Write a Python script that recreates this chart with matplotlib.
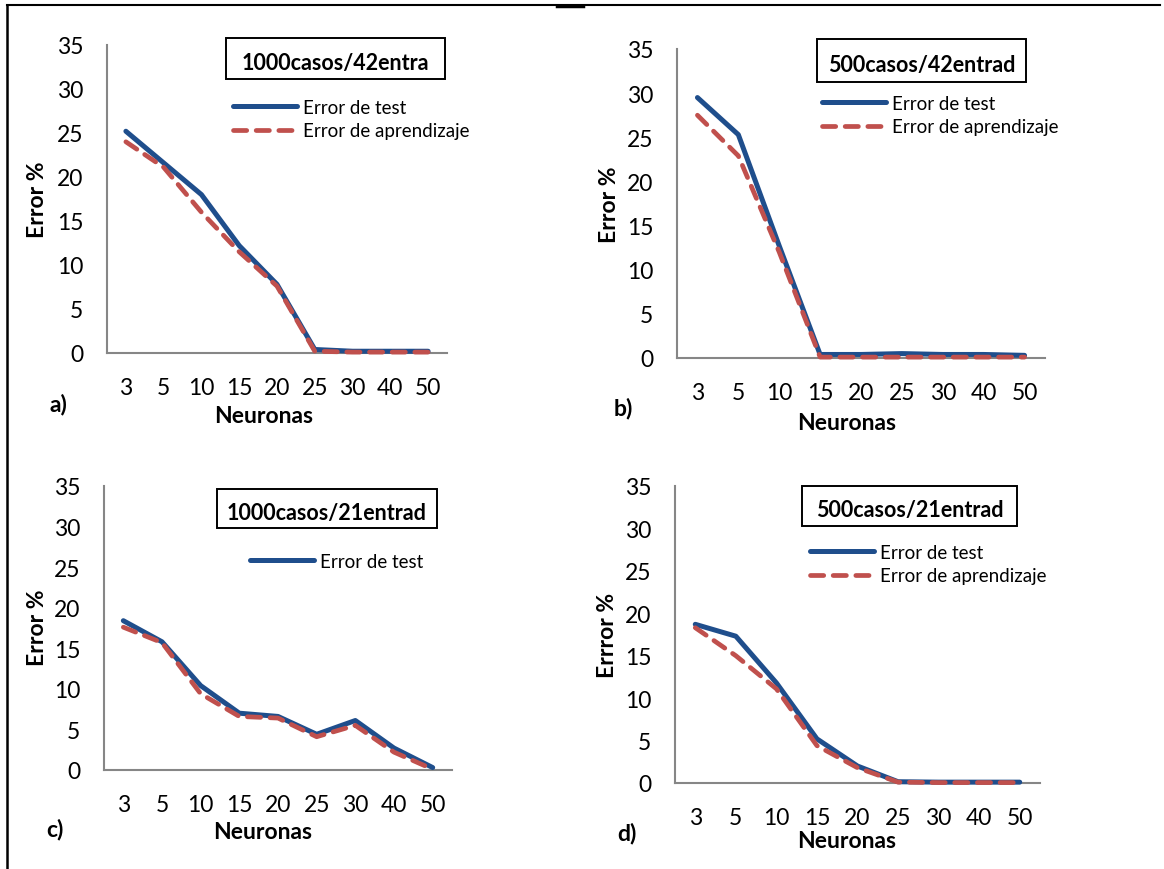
import matplotlib
matplotlib.use('Agg')
import matplotlib.pyplot as plt
from matplotlib.lines import Line2D
from matplotlib.patches import Rectangle

plt.rcParams['font.family'] = ['Lato', 'DejaVu Sans']

# datos
neuronas = ['3', '5', '10', '15', '20', '25', '30', '40', '50']

test_a = [25.2, 21.6, 18.0, 12.2, 7.8, 0.4, 0.2, 0.2, 0.2]
apr_a = [24.0, 21.1, 16.0, 11.5, 7.6, 0.2, 0.1, 0.1, 0.1]

test_b = [29.5, 25.3, 12.7, 0.4, 0.4, 0.5, 0.4, 0.4, 0.3]
apr_b = [27.5, 22.9, 12.0, 0.1, 0.1, 0.1, 0.1, 0.1, 0.1]

test_c = [18.4, 15.8, 10.4, 7.0, 6.6, 4.4, 6.1, 2.7, 0.3]
apr_c = [17.6, 15.7, 9.4, 6.6, 6.4, 4.1, 5.5, 2.2, 0.1]

test_d = [18.7, 17.3, 11.8, 5.2, 2.0, 0.15, 0.1, 0.1, 0.1]
apr_d = [18.3, 15.0, 11.1, 4.4, 1.8, 0.1, 0.05, 0.05, 0.05]

titulos = ['1000casos/42entra', '500casos/42entrad', '1000casos/21entrad', '500casos/21entrad']
ylabels = ['Error %', 'Error %', 'Error %', 'Errror %']
letras = ['a)', 'b)', 'c)', 'd)']

W, H = 1164, 870
AZUL = '#1F4E8C'
ROJO = '#C0504D'
GRIS = '#868686'

fig = plt.figure(figsize=(W / 100, H / 100), dpi=100)


def fx(x):
    return x / W


def fy(y):
    return 1 - y / H


# posiciones en pixeles: eje (x0, x1, ytop, ybot), ylabel, letra, neuronas, caja titulo, leyenda
paneles = [
    dict(ax=(107, 447, 46, 354), yl=(38, 200), let=(58, 405), neu=(264, 417),
         caja=(226, 445, 39, 80), ley=(233, 120)),
    dict(ax=(677, 1045, 50, 359), yl=(609, 205), let=(623, 409), neu=(847, 424),
         caja=(817, 1026, 40, 83), ley=(822, 116)),
    dict(ax=(104, 452, 487, 771), yl=(38, 628), let=(55, 830), neu=(263, 833),
         caja=(217, 437, 490, 529), ley=(250, 562)),
    dict(ax=(675, 1040, 487, 784), yl=(607, 635), let=(627, 834), neu=(847, 842),
         caja=(802, 1017, 487, 527), ley=(810, 565)),
]

series = [(test_a, apr_a), (test_b, apr_b), (test_c, apr_c), (test_d, apr_d)]

for i, p in enumerate(paneles):
    x0, x1, yt, yb = p['ax']
    ax = fig.add_axes([fx(x0), fy(yb), (x1 - x0) / W, (yb - yt) / H])
    for s in ['top', 'right']:
        ax.spines[s].set_visible(False)
    for s in ['left', 'bottom']:
        ax.spines[s].set_color(GRIS)
        ax.spines[s].set_linewidth(1.5)
        ax.spines[s].set_zorder(1)
    test, apr = series[i]
    lt, = ax.plot(range(len(neuronas)), test, color=AZUL, lw=3.6, clip_on=False, zorder=3,
                  solid_capstyle='round', solid_joinstyle='round', label='Error de test')
    la, = ax.plot(range(len(neuronas)), apr, color=ROJO, lw=3.4, dashes=(2.8, 2.0), clip_on=False,
                  zorder=4, dash_capstyle='round', label='Error de aprendizaje')
    ax.set_xlim(-0.5, len(neuronas) - 0.5)
    ax.set_ylim(0, 35)
    ax.set_yticks(range(0, 36, 5))
    ax.set_xticks(range(len(neuronas)))
    ax.set_xticklabels(neuronas)
    ax.tick_params(length=0, labelsize=16.5, colors='black')
    ax.tick_params(axis='y', pad=17)
    ax.tick_params(axis='x', pad=17)
    ax.patch.set_visible(False)

    fig.text(fx(p['yl'][0]), fy(p['yl'][1]), ylabels[i], rotation=90, ha='center', va='center',
             fontsize=16.5, fontweight='bold')
    fig.text(fx(p['let'][0]), fy(p['let'][1]), letras[i], ha='center', va='center',
             fontsize=16.5, fontweight='bold')
    fig.text(fx(p['neu'][0]), fy(p['neu'][1]), 'Neuronas', ha='center', va='center',
             fontsize=16.5, fontweight='bold')

    bx0, bx1, by0, by1 = p['caja']
    fig.add_artist(Rectangle((fx(bx0), fy(by1)), (bx1 - bx0) / W, (by1 - by0) / H,
                             transform=fig.transFigure, fill=False, edgecolor='black', lw=1.4))
    fig.text(fx((bx0 + bx1) / 2), fy((by0 + by1) / 2 + 4), titulos[i], ha='center', va='center',
             fontsize=15.5, fontweight='bold')

    handles = [lt] if i == 2 else [lt, la]
    ax.legend(handles=handles, loc='center left', bbox_to_anchor=(fx(p['ley'][0]), fy(p['ley'][1])),
              bbox_transform=fig.transFigure, frameon=False, fontsize=13.5, handlelength=3.4,
              handletextpad=0.35, labelspacing=0.35, borderpad=0, borderaxespad=0)

# marco de la pagina
fig.add_artist(Line2D([fx(7), fx(1160)], [fy(6), fy(6)], color='black', lw=1.5))
fig.add_artist(Line2D([fx(557), fx(583)], [fy(7), fy(7)], color='black', lw=2.5))
fig.add_artist(Line2D([fx(7), fx(7)], [fy(6), fy(870)], color='black', lw=1.8))

fig.savefig('out.png', dpi=100, facecolor='white')
